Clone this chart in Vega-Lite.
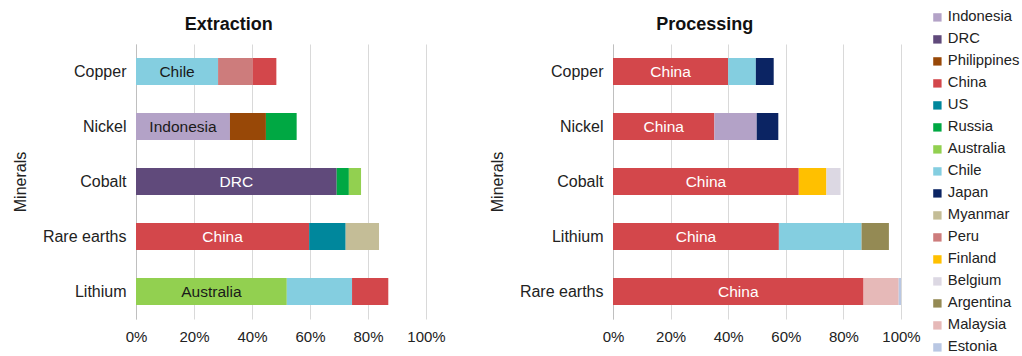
{
  "$schema": "https://vega.github.io/schema/vega-lite/v6.json",
  "background": "white",
  "padding": {"left": 12, "top": 10, "right": 0, "bottom": 5},
  "datasets": {
    "d": [
      {"panel": "Extraction", "mineral": "Copper", "country": "Chile", "share": 0.283, "ord": 1},
      {"panel": "Extraction", "mineral": "Copper", "country": "Peru", "share": 0.119, "ord": 2},
      {"panel": "Extraction", "mineral": "Copper", "country": "China", "share": 0.082, "ord": 3},
      {"panel": "Extraction", "mineral": "Nickel", "country": "Indonesia", "share": 0.324, "ord": 1},
      {"panel": "Extraction", "mineral": "Nickel", "country": "Philippines", "share": 0.124, "ord": 2},
      {"panel": "Extraction", "mineral": "Nickel", "country": "Russia", "share": 0.106, "ord": 3},
      {"panel": "Extraction", "mineral": "Cobalt", "country": "DRC", "share": 0.692, "ord": 1},
      {"panel": "Extraction", "mineral": "Cobalt", "country": "Russia", "share": 0.042, "ord": 2},
      {"panel": "Extraction", "mineral": "Cobalt", "country": "Australia", "share": 0.042, "ord": 3},
      {"panel": "Extraction", "mineral": "Rare earths", "country": "China", "share": 0.597, "ord": 1},
      {"panel": "Extraction", "mineral": "Rare earths", "country": "US", "share": 0.126, "ord": 2},
      {"panel": "Extraction", "mineral": "Rare earths", "country": "Myanmar", "share": 0.115, "ord": 3},
      {"panel": "Extraction", "mineral": "Lithium", "country": "Australia", "share": 0.52, "ord": 1},
      {"panel": "Extraction", "mineral": "Lithium", "country": "Chile", "share": 0.225, "ord": 2},
      {"panel": "Extraction", "mineral": "Lithium", "country": "China", "share": 0.125, "ord": 3},
      {"panel": "Processing", "mineral": "Copper", "country": "China", "share": 0.40, "ord": 1},
      {"panel": "Processing", "mineral": "Copper", "country": "Chile", "share": 0.096, "ord": 2},
      {"panel": "Processing", "mineral": "Copper", "country": "Japan", "share": 0.062, "ord": 3},
      {"panel": "Processing", "mineral": "Nickel", "country": "China", "share": 0.352, "ord": 1},
      {"panel": "Processing", "mineral": "Nickel", "country": "Indonesia", "share": 0.147, "ord": 2},
      {"panel": "Processing", "mineral": "Nickel", "country": "Japan", "share": 0.075, "ord": 3},
      {"panel": "Processing", "mineral": "Cobalt", "country": "China", "share": 0.645, "ord": 1},
      {"panel": "Processing", "mineral": "Cobalt", "country": "Finland", "share": 0.096, "ord": 2},
      {"panel": "Processing", "mineral": "Cobalt", "country": "Belgium", "share": 0.049, "ord": 3},
      {"panel": "Processing", "mineral": "Lithium", "country": "China", "share": 0.576, "ord": 1},
      {"panel": "Processing", "mineral": "Lithium", "country": "Chile", "share": 0.287, "ord": 2},
      {"panel": "Processing", "mineral": "Lithium", "country": "Argentina", "share": 0.095, "ord": 3},
      {"panel": "Processing", "mineral": "Rare earths", "country": "China", "share": 0.87, "ord": 1},
      {"panel": "Processing", "mineral": "Rare earths", "country": "Malaysia", "share": 0.122, "ord": 2},
      {"panel": "Processing", "mineral": "Rare earths", "country": "Estonia", "share": 0.008, "ord": 3}
    ]
  },
  "hconcat": [
    {
      "width": 290,
      "height": 275,
      "title": {"text": "Extraction"},
      "data": {"name": "d"},
      "transform": [{"filter": "datum.panel == 'Extraction'"}],
      "layer": [
        {
          "mark": {"type": "bar"},
          "encoding": {
            "y": {"field": "mineral", "type": "nominal", "sort": ["Copper", "Nickel", "Cobalt", "Rare earths", "Lithium"], "scale": {"paddingInner": 0.51, "paddingOuter": 0.255}, "title": "Minerals"},
            "x": {"field": "share", "type": "quantitative", "stack": "zero", "scale": {"domain": [0, 1]}, "axis": {"format": "%", "values": [0, 0.2, 0.4, 0.6, 0.8, 1]}, "title": null},
            "color": {
              "field": "country", "type": "nominal",
              "scale": {
                "domain": ["Indonesia", "DRC", "Philippines", "China", "US", "Russia", "Australia", "Chile", "Japan", "Myanmar", "Peru", "Finland", "Belgium", "Argentina", "Malaysia", "Estonia"],
                "range": ["#B3A2C7", "#604A7B", "#984807", "#D3474B", "#00879C", "#00A843", "#92D050", "#84CEE0", "#0B2463", "#C4BD97", "#CD7C7C", "#FFC000", "#DCD8E3", "#948A54", "#E6B9B8", "#B9C7E3"]
              },
              "legend": {"title": null, "orient": "none", "legendX": 794, "legendY": -34}
            },
            "order": {"field": "ord", "type": "quantitative"}
          }
        },
        {
          "transform": [{"filter": "datum.ord == 1"}, {"calculate": "datum.share / 2", "as": "mid"}],
          "mark": {"type": "text", "fontSize": 15.5},
          "encoding": {
            "y": {"field": "mineral", "type": "nominal", "sort": ["Copper", "Nickel", "Cobalt", "Rare earths", "Lithium"]},
            "x": {"field": "mid", "type": "quantitative"},
            "text": {"field": "country"},
            "color": {"condition": {"test": "datum.country == 'China' || datum.country == 'DRC'", "value": "#FFFFFF"}, "value": "#1A1A1A"}
          }
        }
      ]
    },
    {
      "width": 288,
      "height": 275,
      "title": {"text": "Processing"},
      "data": {"name": "d"},
      "transform": [{"filter": "datum.panel == 'Processing'"}],
      "layer": [
        {
          "mark": {"type": "bar"},
          "encoding": {
            "y": {"field": "mineral", "type": "nominal", "sort": ["Copper", "Nickel", "Cobalt", "Lithium", "Rare earths"], "scale": {"paddingInner": 0.51, "paddingOuter": 0.255}, "title": "Minerals"},
            "x": {"field": "share", "type": "quantitative", "stack": "zero", "scale": {"domain": [0, 1]}, "axis": {"format": "%", "values": [0, 0.2, 0.4, 0.6, 0.8, 1]}, "title": null},
            "color": {"field": "country", "type": "nominal"},
            "order": {"field": "ord", "type": "quantitative"}
          }
        },
        {
          "transform": [{"filter": "datum.ord == 1"}, {"calculate": "datum.share / 2", "as": "mid"}],
          "mark": {"type": "text", "fontSize": 15.5},
          "encoding": {
            "y": {"field": "mineral", "type": "nominal", "sort": ["Copper", "Nickel", "Cobalt", "Lithium", "Rare earths"]},
            "x": {"field": "mid", "type": "quantitative"},
            "text": {"field": "country"},
            "color": {"value": "#FFFFFF"}
          }
        }
      ]
    }
  ],
  "spacing": 43,
  "resolve": {"scale": {"color": "shared"}},
  "config": {
    "font": "Liberation Sans",
    "view": {"stroke": null},
    "title": {"fontSize": 18, "fontWeight": "bold", "anchor": "middle", "frame": "bounds", "offset": 10, "color": "#111111"},
    "axisY": {"domainColor": "#BFBFBF", "ticks": false, "labelPadding": 10, "labelFontSize": 16, "titleFontSize": 16, "titleFontWeight": "normal", "titlePadding": 14, "grid": false, "labelColor": "#222222", "titleColor": "#222222"},
    "axisX": {"domain": false, "ticks": false, "grid": true, "gridColor": "#D9D9D9", "labelFontSize": 15, "labelPadding": 10, "labelColor": "#222222", "labelFlush": false},
    "legend": {"symbolType": "square", "symbolSize": 70, "symbolStrokeWidth": 0, "labelFontSize": 14.8, "rowPadding": 6, "labelOffset": 3, "labelColor": "#222222"}
  }
}
